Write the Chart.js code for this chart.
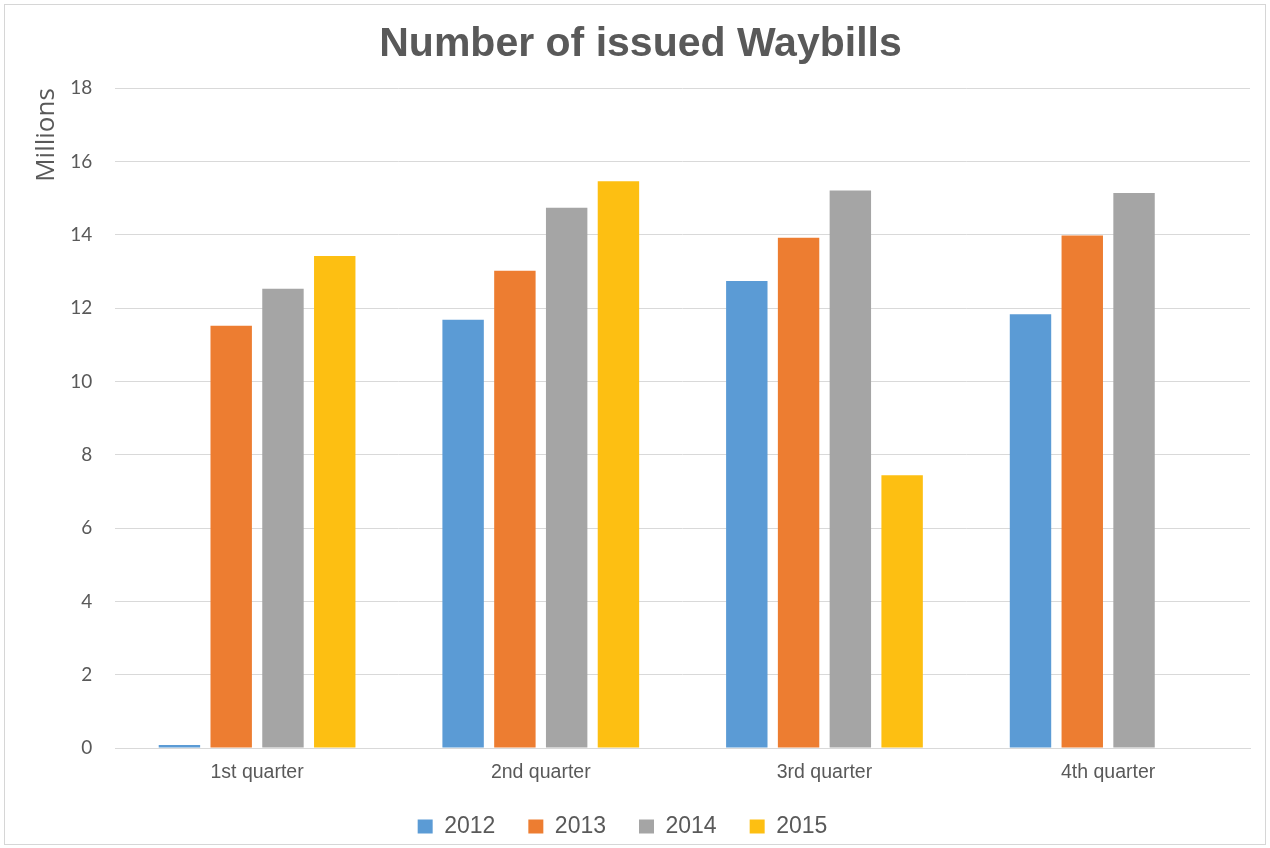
<!DOCTYPE html>
<html>
<head>
<meta charset="utf-8">
<script src="https://cdn.jsdelivr.net/npm/chart.js@4"></script>
<style>
  body { margin: 0; background: #fff; }
  #wrap { position: relative; width: 1270px; height: 848px; }
  #frame { position: absolute; left: 4px; top: 4px; right: 4px; bottom: 3px; border: 1px solid #d6d6d6; pointer-events: none; }
</style>
</head>
<body>
<div id="wrap">
  <canvas id="waybillChart" width="1270" height="848"></canvas>
  <div id="frame"></div>
</div>
<script>
// quarters on the x axis
var quarters = ['1st quarter', '2nd quarter', '3rd quarter', '4th quarter'];
// issued waybills per year, millions (null = no bar)
var y2012 = [0.08, 11.68, 12.74, 11.83];
var y2013 = [11.52, 13.02, 13.92, 13.98];
var y2014 = [12.53, 14.74, 15.21, 15.14];
var y2015 = [13.42, 15.46, 7.44, null];
var yearLabels = ['2012', '2013', '2014', '2015'];
var yTicks = [0, 2, 4, 6, 8, 10, 12, 14, 16, 18];

var colors = ['#5B9BD5', '#ED7D31', '#A5A5A5', '#FDBF12'];
var series = [y2012, y2013, y2014, y2015];

// the legend sits a little left of the middle in the original
var legendShift = {
    id: 'legendShift',
    afterLayout: function(chart) {
        chart.legend.left -= 18;
        chart.legend.right -= 18;
    }
};

var waybillChart = new Chart(document.getElementById('waybillChart'), {
    type: 'bar',
    data: {
        labels: quarters,
        datasets: series.map(function(values, i) {
            return {
                label: yearLabels[i],
                data: values,
                backgroundColor: colors[i],
                categoryPercentage: 0.73,
                barPercentage: 0.8
            };
        })
    },
    plugins: [legendShift],
    options: {
        responsive: false,
        animation: false,
        layout: { padding: { left: 31, right: 20, top: 0, bottom: 0 } },
        plugins: {
            title: {
                display: true,
                text: 'Number of issued Waybills',
                color: '#595959',
                font: { family: 'Liberation Sans', size: 41, weight: 'bold' },
                padding: { top: 20, bottom: 19 }
            },
            legend: {
                position: 'bottom',
                labels: {
                    color: '#595959',
                    font: { family: 'Liberation Sans', size: 23 },
                    boxWidth: 15,
                    boxHeight: 14,
                    padding: 33
                }
            },
            tooltip: { enabled: false }
        },
        scales: {
            x: {
                grid: { display: false },
                border: { color: '#d9d9d9' },
                ticks: {
                    color: '#595959',
                    font: { family: 'Liberation Sans', size: 19.5 },
                    padding: 5
                },
                afterFit: function(axis) {
                    axis.height = 34;
                }
            },
            y: {
                min: 0,
                max: 18,
                afterBuildTicks: function(axis) {
                    axis.ticks = yTicks.map(function(v) { return { value: v }; });
                },
                grid: { color: '#d9d9d9', drawTicks: false },
                border: { display: false },
                ticks: {
                    color: '#595959',
                    font: { family: 'Lato', size: 19 },
                    padding: 23
                },
                title: {
                    display: true,
                    text: 'Millions',
                    align: 'end',
                    color: '#595959',
                    font: { family: 'Open Sans', size: 26 },
                    padding: { top: 0, bottom: -15 }
                }
            }
        }
    }
});
</script>
</body>
</html>
